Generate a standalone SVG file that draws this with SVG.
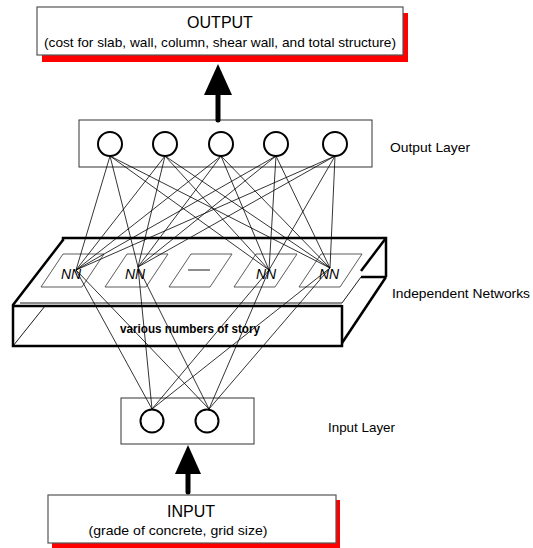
<svg xmlns="http://www.w3.org/2000/svg" width="533" height="548" viewBox="0 0 533 548">
<style>
text{font-family:"Liberation Sans",Arial,sans-serif;fill:#000}
.box{fill:#fff;stroke:#555;stroke-width:1.2}
.shadow{fill:#f00}
.layer{fill:#fff;stroke:#333;stroke-width:1}
.neuron{fill:#fff;stroke:#000;stroke-width:2}
.conn{stroke:#000;stroke-width:0.8;fill:none}
.thick{stroke:#000;stroke-width:2.5;fill:none;stroke-linejoin:miter}
.thin{stroke:#000;stroke-width:0.9;fill:none}
.pane{fill:none;stroke:#333;stroke-width:0.8}
.nn{font-size:14px;font-style:italic}
.lbl{font-size:13.5px}
</style>

<g id="output">
<rect class="shadow" x="42" y="13" width="366" height="49"/>
<rect class="box" x="37" y="7" width="366" height="48"/>
<text x="220" y="28" font-size="16" text-anchor="middle">OUTPUT</text>
<text x="220" y="47" font-size="13.5" text-anchor="middle" textLength="352" lengthAdjust="spacingAndGlyphs">(cost for slab, wall, column, shear wall, and total structure)</text>
</g>

<g id="input">
<rect class="shadow" x="52" y="500" width="288" height="48"/>
<rect class="box" x="48" y="495" width="288" height="48"/>
<text x="191" y="517" font-size="16" text-anchor="middle">INPUT</text>
<text x="178" y="535" font-size="13.5" text-anchor="middle" textLength="179" lengthAdjust="spacingAndGlyphs">(grade of concrete, grid size)</text>
</g>

<g id="networks">
<path class="thick" d="M63,241 L63,238 L386,238 L386,277"/>
<path class="thick" d="M63,240 L13,305 L13,346 L342,346 L342,305"/>
<path class="thick" d="M13,306 L342,306"/>
<path class="thin" d="M20,303 L342,303"/>
<path class="thick" d="M386,238 L361,271"/>
<path class="thick" d="M361,277 L386,277"/>
<path class="thick" d="M386,277 L342,343"/>
<path class="thin" d="M13,346 L45,306"/>
<path class="thin" d="M361,277 L342,303"/>
<polygon class="pane" points="63,254 104,254 82,287 41,287"/>
<polygon class="pane" points="127,254 168,254 146,287 105,287"/>
<polygon class="pane" points="191,254 232,254 210,287 169,287"/>
<polygon class="pane" points="256,254 297,254 275,287 234,287"/>
<polygon class="pane" points="321,254 362,254 340,287 299,287"/>
<text class="nn" x="71" y="279" text-anchor="middle">NN</text>
<text class="nn" x="135" y="279" text-anchor="middle">NN</text>
<line class="thin" x1="188" y1="270" x2="210" y2="270"/>
<text class="nn" x="266" y="279" text-anchor="middle">NN</text>
<text class="nn" x="329" y="279" text-anchor="middle">NN</text>
<text x="190" y="333" font-size="13.5" font-weight="bold" text-anchor="middle" textLength="140" lengthAdjust="spacingAndGlyphs">various numbers of story</text>
</g>

<g id="output-layer">
<rect class="layer" x="79" y="120" width="293" height="47"/>
<circle class="neuron" cx="110" cy="144" r="12"/>
<circle class="neuron" cx="165" cy="144" r="12"/>
<circle class="neuron" cx="221" cy="144" r="12"/>
<circle class="neuron" cx="276" cy="144" r="12"/>
<circle class="neuron" cx="335" cy="144" r="12"/>
</g>

<g id="input-layer">
<rect class="layer" x="121" y="398" width="133" height="46"/>
<circle class="neuron" cx="152" cy="421" r="11.5"/>
<circle class="neuron" cx="207" cy="421" r="11.5"/>
</g>

<g id="connectors">
<g class="conn">
<path d="M110,156 L76,270 M110,156 L138,267 M110,156 L269,270 M110,156 L330,268"/>
<path d="M165,156 L76,270 M165,156 L138,267 M165,156 L269,270 M165,156 L330,268"/>
<path d="M221,156 L76,270 M221,156 L138,267 M221,156 L269,270 M221,156 L330,268"/>
<path d="M276,156 L76,270 M276,156 L138,267 M276,156 L269,270 M276,156 L330,268"/>
<path d="M335,156 L76,270 M335,156 L138,267 M335,156 L269,270 M335,156 L330,268"/>
<path d="M152,409 L76,270 M152,409 L138,267 M152,409 L269,270 M152,409 L330,268"/>
<path d="M209,409 L76,270 M209,409 L138,267 M209,409 L269,270 M209,409 L330,268"/>
</g>
<path d="M218,120 L218,95" stroke="#000" stroke-width="5" stroke-linecap="round"/>
<polygon points="218,64 232,95 204,95" fill="#000"/>
<path d="M188,492 L188,473" stroke="#000" stroke-width="5" stroke-linecap="round"/>
<polygon points="188,445 201,474 175,474" fill="#000"/>
</g>

<g id="labels">
<text class="lbl" x="390" y="152" textLength="80" lengthAdjust="spacingAndGlyphs">Output Layer</text>
<text class="lbl" x="392" y="298" textLength="138" lengthAdjust="spacingAndGlyphs">Independent Networks</text>
<text class="lbl" x="328" y="432" textLength="67" lengthAdjust="spacingAndGlyphs">Input Layer</text>
</g>
</svg>
